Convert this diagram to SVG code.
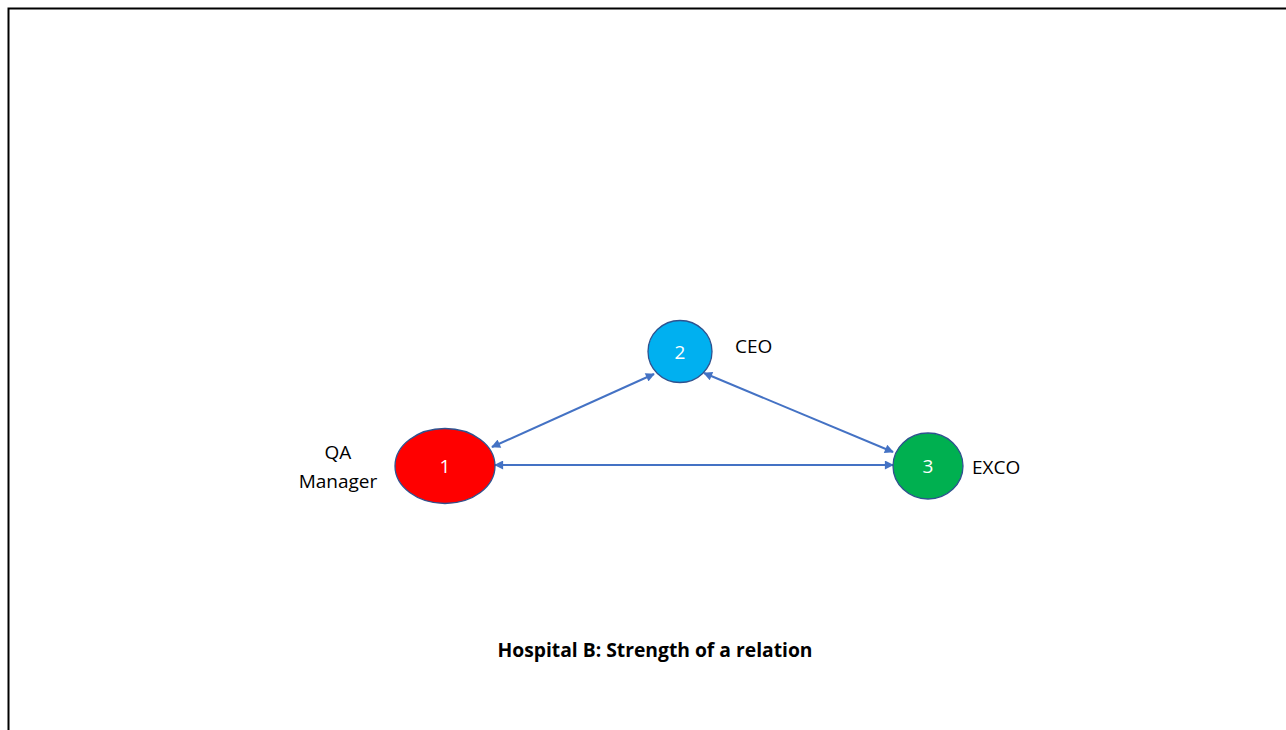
<svg xmlns="http://www.w3.org/2000/svg" width="1286" height="730" viewBox="0 0 1286 730">
  <style>
    .node { stroke: #2F528F; stroke-width: 1.3; }
    .num { font-family: "Open Sans", "Liberation Sans", sans-serif; font-size: 19px; fill: #ffffff; text-anchor: middle; }
    .lbl { font-family: "Open Sans", "Liberation Sans", sans-serif; font-size: 19px; fill: #000000; }
    .edge { stroke: #4472C4; stroke-width: 2; fill: none; marker-start: url(#arr); marker-end: url(#arr); }
    .title { font-family: "Open Sans", "Liberation Sans", sans-serif; font-size: 19.3px; font-weight: bold; fill: #000000; text-anchor: middle; }
  </style>
  <defs>
    <marker id="arr" viewBox="0 0 10 10" refX="9" refY="5" markerWidth="5" markerHeight="4.5" orient="auto-start-reverse" markerUnits="strokeWidth">
      <path d="M0,0 L10,5 L0,10 z" fill="#4472C4"/>
    </marker>
  </defs>
  <rect x="0" y="0" width="1286" height="730" fill="#ffffff"/>
  <!-- page frame -->
  <path d="M8.5,730 L8.5,8.5 L1286,8.5" fill="none" stroke="#000000" stroke-width="2"/>

  <g id="connectors">
    <line class="edge" x1="492" y1="447" x2="654" y2="374"/>
    <line class="edge" x1="704" y1="373" x2="893" y2="452"/>
    <line class="edge" x1="495" y1="465" x2="893" y2="465"/>
  </g>

  <g id="node-1">
    <ellipse class="node" cx="445" cy="466" rx="50" ry="37.5" fill="#FF0000"/>
    <text class="num" x="445" y="473">1</text>
    <text class="lbl" x="338" y="459" text-anchor="middle">QA</text>
    <text class="lbl" x="338" y="488" text-anchor="middle">Manager</text>
  </g>

  <g id="node-2">
    <ellipse class="node" cx="680" cy="351.5" rx="32" ry="31" fill="#00B0F0"/>
    <text class="num" x="680" y="358.5">2</text>
    <text class="lbl" x="735" y="353">CEO</text>
  </g>

  <g id="node-3">
    <ellipse class="node" cx="928" cy="466" rx="35" ry="33" fill="#00B050"/>
    <text class="num" x="928" y="473">3</text>
    <text class="lbl" x="972" y="474">EXCO</text>
  </g>

  <text class="title" x="655" y="657">Hospital B: Strength of a relation</text>
</svg>
